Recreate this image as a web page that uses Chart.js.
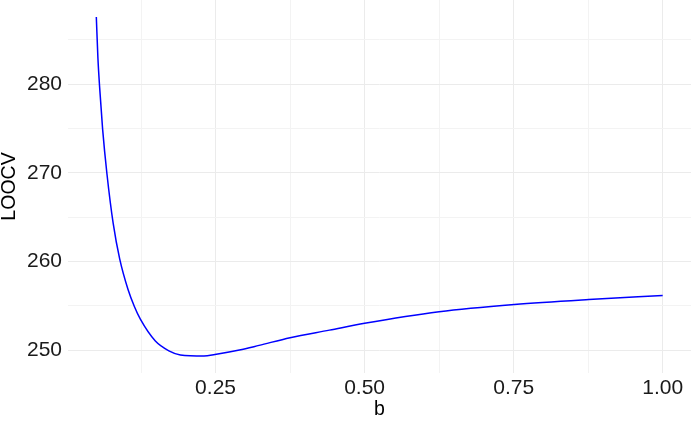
<!DOCTYPE html>
<html>
<head>
<meta charset="utf-8">
<script src="https://cdn.jsdelivr.net/npm/chart.js@4/dist/chart.umd.min.js"></script>
<style>
  html, body { margin: 0; padding: 0; background: #ffffff; }
  #wrap { width: 691px; height: 422px; position: relative; }
</style>
</head>
<body>
<div id="wrap"><canvas id="chartLoocv"></canvas></div>
<script>
// bandwidth b and leave-one-out CV error
const bValues = [0.05, 0.0527, 0.0556, 0.0606, 0.0678, 0.0783, 0.0892, 0.1032, 0.114, 0.1241, 0.149, 0.1717, 0.191, 0.2306, 0.249, 0.29, 0.323, 0.375, 0.441, 0.500, 0.625, 0.751, 0.876, 1.00];
const loocvValues = [287.56, 282.9, 279.6, 274.9, 269.9, 264.3, 260.3, 256.85, 254.91, 253.48, 251.05, 249.95, 249.49, 249.36, 249.53, 250.03, 250.56, 251.43, 252.28, 253.05, 254.35, 255.17, 255.73, 256.18];

const xTicks = [0.125, 0.25, 0.375, 0.5, 0.625, 0.75, 0.875, 1.0];
const xLabels = ["", "0.25", "", "0.50", "", "0.75", "", "1.00"];
const yTicks = [250, 255, 260, 265, 270, 275, 280, 285];
const yLabels = ["250", "", "260", "", "270", "", "280", ""];

const points = bValues.map(function (b, i) {
    return { x: b, y: loocvValues[i] };
});

const tickFont = { family: "'Liberation Sans', Arial, sans-serif", size: 21 };
const titleFont = { family: "'Liberation Sans', Arial, sans-serif", size: 19.5, lineHeight: 1 };

// major lines a bit darker than the minor ones, like ggplot
function gridColor(ctx) {
    return ctx.index % 2 === 1 ? "#ebebeb" : "#f3f3f3";
}
function yGridColor(ctx) {
    return ctx.index % 2 === 0 ? "#ebebeb" : "#f3f3f3";
}

new Chart(document.getElementById("chartLoocv"), {
    type: "line",
    data: {
        datasets: [{
            data: points,
            borderColor: "#0000ff",
            borderWidth: 1.5,
            pointRadius: 0,
            fill: false,
            cubicInterpolationMode: "monotone"
        }]
    },
    options: {
        responsive: true,
        maintainAspectRatio: false,
        animation: false,
        layout: { padding: 0 },
        plugins: { legend: { display: false }, tooltip: { enabled: false } },
        scales: {
            x: {
                type: "linear",
                min: 0.0025,
                max: 1.0475,
                afterBuildTicks: function (axis) {
                    axis.ticks = xTicks.map(function (v) { return { value: v }; });
                },
                afterFit: function (axis) {
                    axis.height = 49;
                    axis.paddingLeft = 0;
                    axis.paddingRight = 0;
                },
                ticks: {
                    autoSkip: false,
                    maxRotation: 0,
                    padding: 3,
                    color: "#1a1a1a",
                    font: tickFont,
                    callback: function (v, i) { return xLabels[i]; }
                },
                grid: { color: gridColor, lineWidth: 1, drawTicks: false },
                border: { display: false },
                title: {
                    display: true,
                    text: "b",
                    color: "#000000",
                    font: titleFont,
                    padding: { top: 0, bottom: 3 }
                }
            },
            y: {
                type: "linear",
                min: 247.45,
                max: 289.47,
                afterBuildTicks: function (axis) {
                    axis.ticks = yTicks.map(function (v) { return { value: v }; });
                },
                afterFit: function (axis) {
                    axis.width = 68;
                    axis.paddingTop = 0;
                    axis.paddingBottom = 0;
                },
                ticks: {
                    autoSkip: false,
                    padding: 6,
                    color: "#1a1a1a",
                    font: tickFont,
                    callback: function (v, i) { return yLabels[i]; }
                },
                grid: { color: yGridColor, lineWidth: 1, drawTicks: false },
                border: { display: false },
                title: {
                    display: true,
                    text: "LOOCV",
                    color: "#000000",
                    font: titleFont,
                    padding: { top: 0, bottom: 0 }
                }
            }
        }
    }
});
</script>
</body>
</html>
